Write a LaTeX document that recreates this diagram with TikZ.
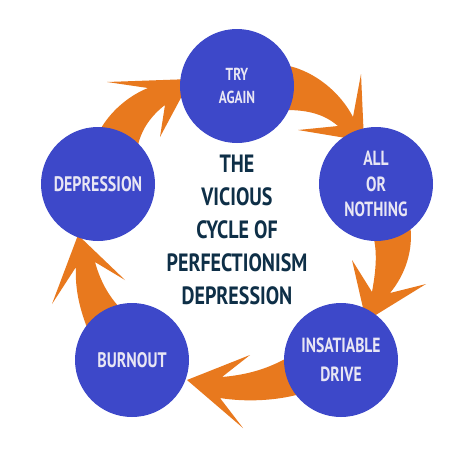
\documentclass[tikz,border=0pt]{standalone}
\usepackage{fontspec}
\newfontfamily\condf{PT Sans}[FakeStretch=0.76]
\newfontfamily\titlef{PT Sans}[FakeStretch=0.8]
\definecolor{cblue}{HTML}{3D48C9}
\definecolor{corange}{HTML}{E8791E}
\definecolor{cnavy}{HTML}{0E2F47}
\definecolor{ctext}{HTML}{E8E6F4}
\pgfdeclarelayer{bg}
\pgfsetlayers{bg,main}
\begin{document}
\begin{tikzpicture}[x=1pt,y=-1pt,
  stage/.style={circle, fill=cblue, minimum size=114pt, inner sep=0pt,
    text=ctext, align=center},
  cyclearrow/.style={fill=corange},
  titletext/.style={text=cnavy, align=center,
    font=\titlef\bfseries\fontsize{25}{33}\selectfont}]
\useasboundingbox (0,0) rectangle (474,474);

\node[stage, font=\condf\bfseries\fontsize{17.4}{23}\selectfont] (try) at (237,86) {TRY\\AGAIN};
\node[stage, font=\condf\bfseries\fontsize{20.5}{25.5}\selectfont] (all) at (376,184) {ALL\\OR\\NOTHING};
\node[stage, font=\condf\bfseries\fontsize{20.5}{29}\selectfont] (ins) at (341,360) {INSATIABLE\\DRIVE};
\node[stage, font=\condf\bfseries\fontsize{21}{25}\selectfont] (bur) at (132,360) {BURNOUT};
\node[stage, font=\condf\bfseries\fontsize{21}{25}\selectfont] (dep) at (98,184) {DEPRESSION};

\node[titletext] (title) at (237,230) {THE\\VICIOUS\\CYCLE OF\\PERFECTIONISM\\DEPRESSION};

\begin{pgfonlayer}{bg}
\fill[white] (0,0) rectangle (474,474);
% TRY AGAIN -> ALL OR NOTHING
\fill[cyclearrow] (try.center) -- (289,66) .. controls (315,72) and (340,92) .. (353,117)
  -- (361,74) -- (364,141) -- (298,130) -- (338,126)
  .. controls (325,115) and (310,110) .. (286,110) -- cycle;
% ALL OR NOTHING -> INSATIABLE DRIVE
\fill[cyclearrow] (all.center) -- (410,224) .. controls (414,250) and (405,275) .. (390,293)
  -- (426,284) -- (366,321) -- (352,260) -- (372,292)
  .. controls (376,270) and (378,250) .. (372,232) -- cycle;
% INSATIABLE DRIVE -> BURNOUT
\fill[cyclearrow] (ins.center) -- (287,358) .. controls (265,370) and (245,375) .. (222,377)
  -- (250,355) -- (187,380) -- (243,428) -- (220,398)
  .. controls (245,402) and (275,401) .. (300,394) -- cycle;
% BURNOUT -> DEPRESSION
\fill[cyclearrow] (bur.center) -- (88,330) .. controls (78,305) and (75,285) .. (76,267)
  -- (52,304) -- (78,235) -- (125,280) -- (95,262)
  .. controls (100,280) and (108,296) .. (122,310) -- cycle;
% DEPRESSION -> TRY AGAIN
\fill[cyclearrow] (dep.center) -- (100,130) .. controls (110,112) and (128,96) .. (148,88)
  -- (107,82) -- (191,79) -- (160,137) -- (165,105)
  .. controls (152,115) and (142,128) .. (138,145) -- cycle;
\end{pgfonlayer}
\end{tikzpicture}
\end{document}
